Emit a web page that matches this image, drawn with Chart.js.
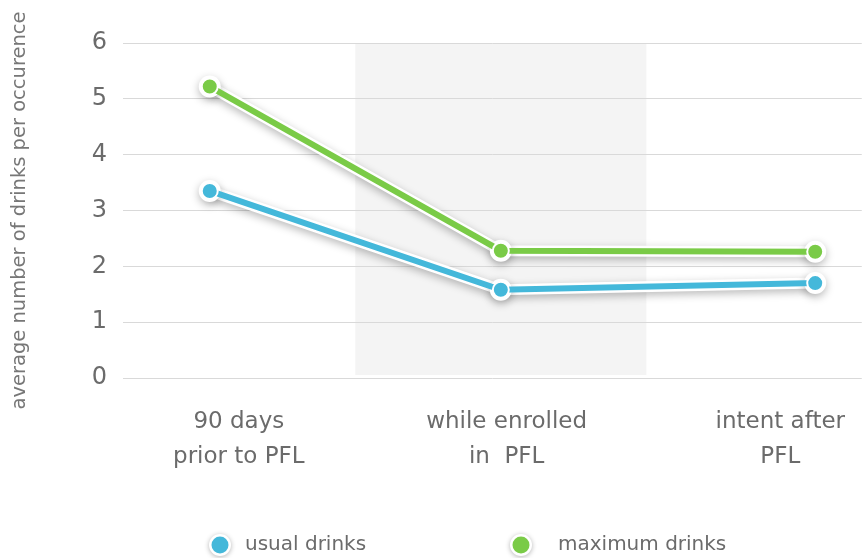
<!DOCTYPE html>
<html>
<head>
<meta charset="utf-8">
<script src="https://cdn.jsdelivr.net/npm/chart.js@4"></script>
<style>
  html, body { margin: 0; padding: 0; background: #fff; overflow: hidden; }
  canvas { display: block; }
</style>
</head>
<body>
<canvas id="drinksChart" width="864" height="558"></canvas>
<script>
// data
const periods = [['90 days', 'prior to PFL'], ['while enrolled', 'in  PFL'], ['intent after', 'PFL']];
const periodX = [0, 1, 2.08];          // where each point sits on the x scale
const labelX = [0.1, 1.02, 1.96];      // where the period labels sit
const usualDrinks = [3.35, 1.58, 1.7];
const maxDrinks = [5.22, 2.28, 2.26];
const yTicks = [0, 1, 2, 3, 4, 5, 6];

const BLUE = '#44b8da';
const GREEN = '#7acb47';
const TEXT = '#6b6b6b';
const FONT = '"DejaVu Sans", sans-serif';

function toPoints(values) {
    return values.map((v, i) => ({ x: periodX[i], y: v }));
}

function outline(values) {
    return {
        label: '_outline',
        data: toPoints(values),
        borderColor: '#ffffff',
        borderWidth: 11,
        pointRadius: 11,
        pointBackgroundColor: '#ffffff',
        pointBorderWidth: 0,
        tension: 0,
        order: 2
    };
}

function series(label, values, color) {
    return {
        label,
        data: toPoints(values),
        borderColor: color,
        borderWidth: 6,
        pointRadius: 8,
        pointBackgroundColor: color,
        pointBorderColor: '#ffffff',
        pointBorderWidth: 2,
        tension: 0,
        order: 1
    };
}

// grey band behind the middle period
const bandPlugin = {
    id: 'band',
    beforeDraw(chart) {
        const { ctx, chartArea, scales } = chart;
        const x0 = scales.x.getPixelForValue(0.5);
        const x1 = scales.x.getPixelForValue(1.5);
        ctx.save();
        ctx.fillStyle = '#f4f4f4';
        ctx.fillRect(x0, chartArea.top, x1 - x0, chartArea.bottom - chartArea.top - 3);
        ctx.restore();
    }
};

// soft shadow under the white outlines
const shadowPlugin = {
    id: 'shadow',
    beforeDatasetDraw(chart, args) {
        const ctx = chart.ctx;
        ctx.save();
        if (args.meta.label === '_outline') {
            ctx.shadowColor = 'rgba(0,0,0,0.28)';
            ctx.shadowBlur = 9;
            ctx.shadowOffsetY = 3;
        }
    },
    afterDatasetDraw(chart) {
        chart.ctx.restore();
    }
};

// legend along the bottom
const legendPlugin = {
    id: 'bottomLegend',
    afterDraw(chart) {
        const ctx = chart.ctx;
        const items = chart.data.datasets.filter(d => d.label !== '_outline');
        const xs = [220, 521];
        const y = 545;
        ctx.save();
        ctx.font = '20px ' + FONT;
        ctx.textBaseline = 'middle';
        items.forEach((d, i) => {
            ctx.save();
            ctx.shadowColor = 'rgba(0,0,0,0.3)';
            ctx.shadowBlur = 5;
            ctx.shadowOffsetY = 1;
            ctx.beginPath();
            ctx.arc(xs[i], y, 11, 0, Math.PI * 2);
            ctx.fillStyle = '#ffffff';
            ctx.fill();
            ctx.restore();
            ctx.beginPath();
            ctx.arc(xs[i], y, 8.5, 0, Math.PI * 2);
            ctx.fillStyle = d.borderColor;
            ctx.fill();
            ctx.fillStyle = TEXT;
            ctx.fillText(d.label, xs[i] + 25 + i * 12, y);
        });
        ctx.restore();
    }
};

new Chart(document.getElementById('drinksChart'), {
    type: 'line',
    data: {
        datasets: [
            outline(usualDrinks),
            outline(maxDrinks),
            series('usual drinks', usualDrinks, BLUE),
            series('maximum drinks', maxDrinks, GREEN)
        ]
    },
    options: {
        responsive: false,
        animation: false,
        layout: { autoPadding: false, padding: { top: 43, right: 0, bottom: 0, left: 0 } },
        plugins: {
            legend: { display: false },
            tooltip: { enabled: false }
        },
        scales: {
            x: {
                type: 'linear',
                min: -0.298,
                max: 2.24,
                grid: { display: false },
                border: { display: false },
                afterBuildTicks: scale => { scale.ticks = labelX.map(v => ({ value: v })); },
                afterFit: scale => { scale.height = 180; },
                ticks: {
                    padding: 19,
                    color: TEXT,
                    font: { family: FONT, size: 23, lineHeight: 1.5 },
                    maxRotation: 0,
                    autoSkip: false,
                    callback: (v, i) => periods[i]
                }
            },
            y: {
                min: 0,
                max: 6,
                afterBuildTicks: scale => { scale.ticks = yTicks.map(v => ({ value: v })); },
                afterFit: scale => { scale.width = 123; },
                grid: { color: '#d9d9d9', lineWidth: 1, drawTicks: false },
                border: { display: false },
                ticks: {
                    padding: 16,
                    color: TEXT,
                    font: { family: FONT, size: 24 }
                },
                title: {
                    display: true,
                    text: 'average number of drinks per occurence',
                    color: '#777777',
                    font: { family: FONT, size: 19.5 },
                    padding: { top: 8, bottom: 0 }
                }
            }
        }
    },
    plugins: [bandPlugin, shadowPlugin, legendPlugin]
});
</script>
</body>
</html>
